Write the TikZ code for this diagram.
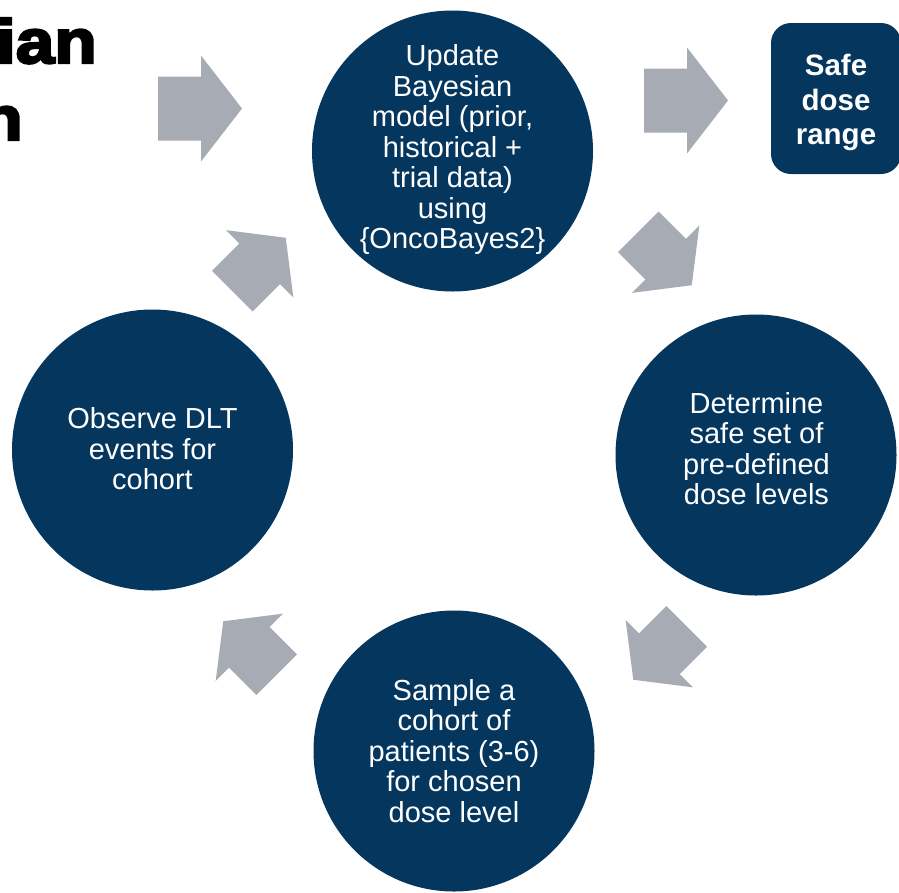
\documentclass[tikz,border=0pt]{standalone}
\usepackage{fontspec}
\setmainfont{Liberation Sans}
\newfontfamily\heavyfont[FakeBold=4,FakeStretch=1.12]{Liberation Sans}
\usetikzlibrary{calc}
\definecolor{navy}{RGB}{4,54,94}
\definecolor{arrowgray}{RGB}{167,171,180}

\begin{document}
\begin{tikzpicture}[x=1pt,y=-1pt,
  stage/.style={circle, fill=navy, minimum size=281pt, inner sep=0pt},
  stagetext/.style={text=white, align=center, inner sep=0pt,
    font=\fontsize{29}{30.5}\selectfont},
  resultbox/.style={rectangle, rounded corners=20pt, fill=navy,
    minimum width=130pt, minimum height=151pt, inner sep=0pt},
  resulttext/.style={text=white, align=center, inner sep=0pt,
    font=\bfseries\fontsize{29.5}{34.5}\selectfont},
  heading/.style={text=black, inner sep=0pt, anchor=base east,
    font=\heavyfont\bfseries\fontsize{62}{62}\selectfont},
  blockarrow/.pic={\fill[arrowgray] (-42,-32) -- (1,-32) -- (1,-53) -- (42,0)
    -- (1,53) -- (1,32) -- (-42,32) -- cycle;}
]
\useasboundingbox (0,0) rectangle (899,892);
\clip (0,0) rectangle (899,892);

% heading, running in from the left edge
\node[heading] (headA) at (97,63) {ian};
\node[heading] (headB) at (23,140) {n};

% the four stages of the cycle
\node[stage] (update) at (452.5,151) {};
\node[stagetext] (updatetext) at (452.5,149.5)
  {Update\\Bayesian\\model (prior,\\historical +\\trial data)\\using\\\{OncoBayes2\}};

\node[stage] (determine) at (756,455) {};
\node[stagetext] (determinetext) at (756.5,448.6)
  {Determine\\safe set of\\pre-defined\\dose levels};

\node[stage] (sample) at (454,751) {};
\node[stagetext] (sampletext) at (454,751.1)
  {Sample a\\cohort of\\patients (3-6)\\for chosen\\dose level};

\node[stage] (observe) at (152.5,450) {};
\node[stagetext] (observetext) at (152.5,449.1)
  {Observe DLT\\events for\\cohort};

% outcome
\node[resultbox] (safe) at (836,98.5) {};
\node[resulttext] (safetext) at (836,102.8) {Safe\\dose\\range};

% block arrows
\pic at (200,108.5) {blockarrow};
\pic at (686,100.5) {blockarrow};
\pic[rotate=-45, scale=0.9] at (665,258.5) {blockarrow};
\pic[rotate=-135, scale=0.9] at (660,653) {blockarrow};
\pic[rotate=135, scale=0.9] at (250,648) {blockarrow};
\pic[rotate=45, scale=0.9] at (259,264.5) {blockarrow};
\end{tikzpicture}
\end{document}
